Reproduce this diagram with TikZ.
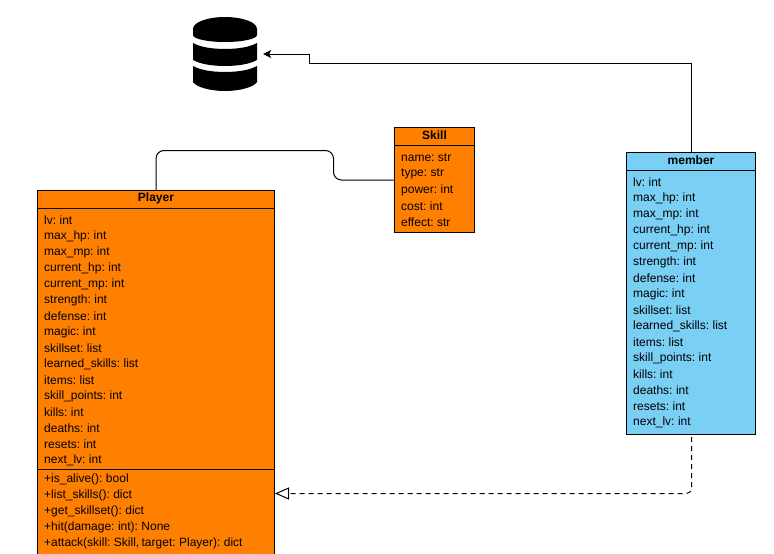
\documentclass[tikz,border=0pt]{standalone}
\usepackage{fontspec}
\setmainfont[WordSpace=0.7]{Liberation Sans}
\usepackage{tikz}
\usetikzlibrary{arrows.meta}
\definecolor{boxorange}{RGB}{255,128,0}
\definecolor{boxblue}{RGB}{122,207,245}
\tikzset{
  umlbox/.style={draw,line width=1pt,inner sep=0pt,outer sep=0pt},
  rowtext/.style={anchor=west,inner sep=0pt,font=\fontsize{12}{14}\selectfont},
  titletext/.style={inner sep=0pt,font=\fontsize{12}{14}\selectfont\bfseries}
}

\begin{document}
\begin{tikzpicture}[x=1pt,y=-1pt]

\clip (0,0) rectangle (774,554);
\useasboundingbox (0,0) rectangle (774,554);

\node [umlbox,fill=boxorange,minimum width=237pt,minimum height=409pt] (player) at (156,395) {};
\node [umlbox,fill=boxorange,minimum width=80pt,minimum height=105pt] (skill) at (434.5,180) {};
\node [umlbox,fill=boxblue,minimum width=129pt,minimum height=282pt] (member) at (691,293.5) {};
\node [inner sep=0pt,minimum width=76pt,minimum height=74pt] (database) at (225,54) {};
\coordinate (realize) at (275,493.5);
\coordinate (memberout) at (691.5,437);

\node [titletext] (playertitle) at (156,198.5) {Player};
\node [titletext] (skilltitle) at (434.5,135.5) {Skill};
\node [titletext] (membertitle) at (691,160.5) {member};

\draw [line width=1pt] (37.5,208.5) -- (274.5,208.5);
\draw [line width=1pt] (37.5,469.5) -- (274.5,469.5);
\draw [line width=1pt] (394.5,145.5) -- (474.5,145.5);
\draw [line width=1pt] (626.5,170.5) -- (755.5,170.5);

% player and member rows
\foreach \row [count=\i from 0] in {lv: int,max\_hp: int,max\_mp: int,current\_hp: int,current\_mp: int,strength: int,defense: int,magic: int,skillset: list,learned\_skills: list,items: list,skill\_points: int,kills: int,deaths: int,resets: int,next\_lv: int}
{
  \node [rowtext] (playerrow\i) at (44,220.5+16*\i) {\row};
  \node [rowtext] (memberrow\i) at (633,182.5+16*\i) {\row};
}
\foreach \row [count=\i from 0] in {+is\_alive(): bool,+list\_skills(): dict,+get\_skillset(): dict,+hit(damage: int): None,{+attack(skill: Skill, target: Player): dict}}
  \node [rowtext] (playermethod\i) at (44,479+16*\i) {\row};
\foreach \row [count=\i from 0] in {name: str,type: str,power: int,cost: int,effect: str}
  \node [rowtext] (skillrow\i) at (401,158+16*\i) {\row};

% database
\fill (193,29) .. controls (193,22) and (208,17) .. (225,17) .. controls (242,17) and (257,22) .. (257,29) -- (257,35) .. controls (257,39) and (242,42) .. (225,42) .. controls (208,42) and (193,39) .. (193,35) -- cycle;
\fill (193,43) .. controls (200,47) and (212,49) .. (225,49) .. controls (238,49) and (250,47) .. (257,43) -- (257,60) .. controls (250,64) and (238,66) .. (225,66) .. controls (212,66) and (200,64) .. (193,60) -- cycle;
\fill (193,66) .. controls (200,70) and (212,72) .. (225,72) .. controls (238,72) and (250,70) .. (257,66) -- (257,82) .. controls (254,87) and (240,91) .. (225,91) .. controls (210,91) and (196,87) .. (193,82) -- cycle;

\draw [line width=1pt,-{Stealth[length=8pt,width=8pt,inset=2pt]}] (member.north) |- (309.5,63.5) |- (database.east);
\draw [line width=1pt,rounded corners=8pt] (player.north) |- (333.5,150.5) |- (skill.west);
\draw [line width=1pt,dash pattern=on 5pt off 4pt,rounded corners=5pt,-{Triangle[open,length=14pt,width=12pt,line width=1pt,fill=white]}] (memberout) |- (realize);

\end{tikzpicture}
\end{document}
